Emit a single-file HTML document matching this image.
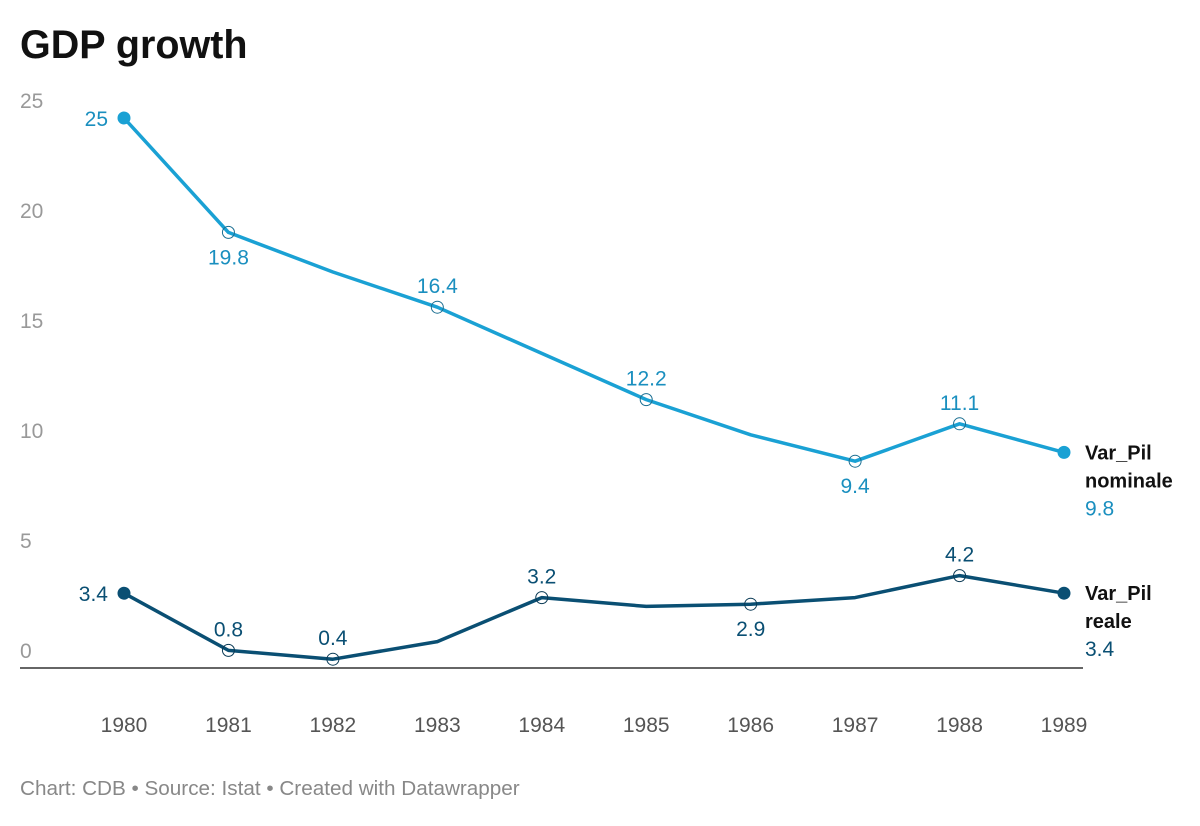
<!DOCTYPE html>
<html><head><meta charset="utf-8">
<style>
body{margin:0;background:#fff;font-family:"Liberation Sans",sans-serif;}
svg text{font-family:"Liberation Sans",sans-serif;}
</style></head>
<body>
<svg id="chart" width="1200" height="821">
<text x="20" y="58" font-size="39.5" font-weight="bold" fill="#111">GDP growth</text>
<g id="yticks"></g>
<g id="xticks"></g>
<line x1="20" x2="1083" y1="668" y2="668" stroke="#333" stroke-width="1.5"/>
<g id="series"></g>
<text x="20" y="795" font-size="20.7" fill="#888">Chart: CDB • Source: Istat • Created with Datawrapper</text>
</svg>
<script>
const years=[1980,1981,1982,1983,1984,1985,1986,1987,1988,1989];
const nominale=[25,19.8,18.0,16.4,14.3,12.2,10.6,9.4,11.1,9.8];
const reale=[3.4,0.8,0.4,1.2,3.2,2.8,2.9,3.2,4.2,3.4];
const yTicks=[0,5,10,15,20,25];
// label placement per point: '' none, 'a' above, 'b' below, 'l' left, 'r' end
const nomLabels=['l','b','','a','','a','','b','a','r'];
const realLabels=['l','a','a','','a','','b','','a','r'];
const NS='http://www.w3.org/2000/svg';
const x=i=>124+i*(1064-124)/(years.length-1);
const y=v=>668-v*22;
function mk(t,a,p){const e=document.createElementNS(NS,t);for(const k in a)e.setAttribute(k,a[k]);p.appendChild(e);return e;}
const yt=document.getElementById('yticks');
yTicks.forEach(v=>{const t=mk('text',{x:20,y:y(v)-10,'font-size':21,fill:'#999'},yt);t.textContent=v;

});
const xt=document.getElementById('xticks');
years.forEach((yr,i)=>{const t=mk('text',{x:x(i),y:732,'font-size':21,fill:'#555','text-anchor':'middle'},xt);t.textContent=yr;

});
const sg=document.getElementById('series');
function series(vals,labels,color,name,l1,l2){
 const g=mk('g',{},sg);
 
 
 const pl=mk('polyline',{points:vals.map((v,i)=>x(i)+','+y(v)).join(' '),fill:'none',stroke:color,'stroke-width':3.5,'stroke-linejoin':'round'},g);
 
 
 vals.forEach((v,i)=>{
  const L=labels[i]; if(!L)return;
  const end=(i==0||i==vals.length-1);
  const c=mk('circle',{cx:x(i),cy:y(v),r:6,fill:end?color:'none',stroke:end?color:(color==='#1aa1d4'?'#1a6e91':'#0a3a55'),'stroke-width':1},g);
  
  
  let tx=x(i),ty=y(v),anc='middle';
  if(L=='a')ty-=14; else if(L=='b')ty+=32; else if(L=='l'){tx-=16;ty+=8;anc='end';}
  if(L=='r'){
   const a=mk('text',{x:1085,y:y(v)+7,'font-size':20,'font-weight':'bold',fill:'#111'},g);a.textContent=l1;
   
   
   const b=mk('text',{x:1085,y:y(v)+35,'font-size':20,'font-weight':'bold',fill:'#111'},g);b.textContent=l2;
   
   
   tx=1085;ty=y(v)+63;anc='start';
  }
  const t=mk('text',{x:tx,y:ty,'font-size':21,fill:color==='#1aa1d4'?'#1a8fbf':'#0a4f73','text-anchor':anc},g);
  t.textContent=v;
  
  
 });
}
series(nominale,nomLabels,'#1aa1d4','nominale','Var_Pil','nominale');
series(reale,realLabels,'#0a4f73','reale','Var_Pil','reale');
</script>
</body></html>
